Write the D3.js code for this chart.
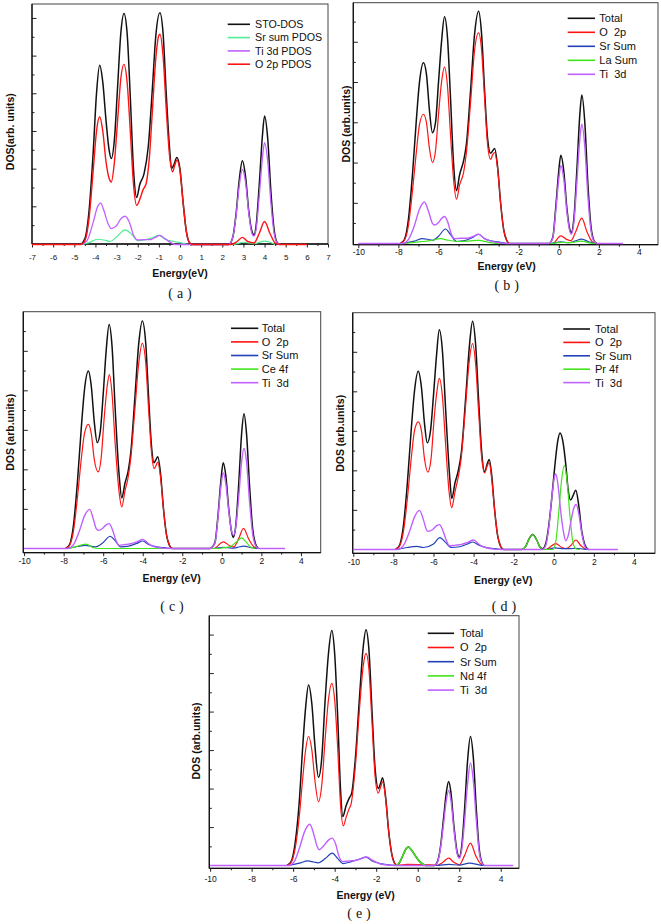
<!DOCTYPE html>
<html><head><meta charset="utf-8">
<script src="https://cdn.jsdelivr.net/npm/d3@7/dist/d3.min.js"></script>
<style>body{margin:0;background:#fff;} svg{display:block;} text{font-family:"Liberation Sans",Arial,sans-serif;}</style>
</head><body><svg id="chart" width="661" height="924"></svg>
<script>
// ---------------- DATA (energy eV, DOS arb. units) ----------------
// Panel (a) SrTiO3
const a_sto = [[-7,0],[-4.7,0],[-4.5,0.15],[-4.3,0.9],[-4.1,2.5],[-3.95,4.0],[-3.8,4.76],[-3.65,4.3],[-3.5,3.3],[-3.35,2.5],[-3.25,2.28],[-3.1,2.8],[-2.95,4.2],[-2.8,5.6],[-2.65,6.13],[-2.5,5.6],[-2.35,3.9],[-2.2,2.0],[-2.05,1.25],[-1.9,1.6],[-1.7,1.88],[-1.5,2.6],[-1.3,4.2],[-1.15,5.5],[-0.95,6.15],[-0.8,5.6],[-0.65,4.0],[-0.5,2.6],[-0.4,2.02],[-0.3,2.1],[-0.15,2.31],[0.0,2.0],[0.15,1.1],[0.3,0.35],[0.45,0.05],[0.6,0],[2.3,0],[2.5,0.2],[2.65,0.8],[2.8,1.7],[2.95,2.22],[3.1,1.8],[3.25,0.9],[3.4,0.35],[3.5,0.25],[3.6,0.5],[3.75,1.6],[3.9,2.9],[4.0,3.41],[4.15,2.8],[4.3,1.4],[4.45,0.4],[4.6,0.05],[4.75,0],[6,0]];
const a_sr = [[-7,0],[-4.6,0],[-4.3,0.05],[-3.9,0.14],[-3.6,0.12],[-3.3,0.08],[-3.0,0.2],[-2.6,0.39],[-2.3,0.28],[-2.0,0.1],[-1.6,0.13],[-1.3,0.18],[-1.0,0.24],[-0.7,0.14],[-0.3,0.08],[0.0,0.05],[0.4,0],[2.5,0],[3.0,0.06],[3.5,0.02],[4.0,0.09],[4.5,0],[6,0]];
const a_ti = [[-7,0],[-4.7,0],[-4.4,0.1],[-4.1,0.6],[-3.9,1.0],[-3.75,1.1],[-3.6,0.9],[-3.4,0.55],[-3.25,0.42],[-3.0,0.5],[-2.8,0.68],[-2.6,0.75],[-2.4,0.6],[-2.2,0.25],[-2.0,0.12],[-1.7,0.13],[-1.4,0.13],[-1.2,0.18],[-0.95,0.24],[-0.7,0.15],[-0.4,0.04],[-0.2,0],[2.3,0],[2.5,0.2],[2.65,0.75],[2.8,1.55],[2.95,1.99],[3.1,1.65],[3.25,0.85],[3.4,0.3],[3.5,0.22],[3.6,0.4],[3.75,1.3],[3.9,2.3],[4.0,2.7],[4.15,2.2],[4.3,1.1],[4.45,0.3],[4.6,0.04],[4.75,0],[6,0]];
const a_o = [[-7,0],[-4.7,0],[-4.5,0.1],[-4.3,0.7],[-4.1,2.0],[-3.95,3.0],[-3.8,3.39],[-3.65,3.0],[-3.5,2.2],[-3.35,1.75],[-3.25,1.66],[-3.1,2.2],[-2.95,3.3],[-2.8,4.4],[-2.65,4.78],[-2.5,4.3],[-2.35,3.0],[-2.2,1.6],[-2.05,1.04],[-1.9,1.2],[-1.75,1.45],[-1.6,1.62],[-1.45,2.3],[-1.3,3.6],[-1.15,4.9],[-1.0,5.55],[-0.95,5.58],[-0.8,5.0],[-0.65,3.6],[-0.5,2.4],[-0.35,1.93],[-0.25,2.1],[-0.15,2.24],[0.0,1.95],[0.15,1.1],[0.3,0.35],[0.45,0.05],[0.6,0],[2.4,0],[2.7,0.08],[2.95,0.19],[3.2,0.08],[3.5,0.04],[3.75,0.3],[4.0,0.61],[4.25,0.3],[4.5,0.04],[4.7,0],[6,0]];

// Panel (b) La-doped
const b_total = [[-10,0],[-7.9,0],[-7.7,0.1],[-7.5,0.6],[-7.3,1.7],[-7.1,3.1],[-6.95,4.0],[-6.75,4.49],[-6.6,4.2],[-6.45,3.3],[-6.3,2.75],[-6.15,3.0],[-6.0,4.0],[-5.85,5.0],[-5.7,5.63],[-5.55,5.1],[-5.4,3.6],[-5.25,2.0],[-5.1,1.31],[-4.95,1.7],[-4.75,2.05],[-4.6,2.5],[-4.4,3.8],[-4.2,5.2],[-4.0,5.77],[-3.85,5.2],[-3.7,3.8],[-3.55,2.6],[-3.4,2.24],[-3.3,2.3],[-3.2,2.36],[-3.05,1.9],[-2.9,1.0],[-2.75,0.35],[-2.6,0.08],[-2.45,0],[-0.5,0],[-0.3,0.15],[-0.15,0.9],[0.0,1.8],[0.1,2.19],[0.25,1.8],[0.4,0.9],[0.55,0.35],[0.62,0.27],[0.75,0.6],[0.9,1.8],[1.05,3.2],[1.15,3.69],[1.3,3.0],[1.45,1.5],[1.6,0.45],[1.75,0.08],[1.9,0],[3.2,0]];
const b_o2p = [[-10,0],[-7.9,0],[-7.7,0.08],[-7.5,0.45],[-7.3,1.3],[-7.1,2.3],[-6.95,2.95],[-6.75,3.21],[-6.6,3.0],[-6.45,2.35],[-6.3,2.01],[-6.15,2.3],[-6.0,3.2],[-5.85,4.0],[-5.7,4.38],[-5.55,3.9],[-5.4,2.7],[-5.25,1.6],[-5.1,1.1],[-4.95,1.45],[-4.75,1.76],[-4.6,2.3],[-4.4,3.5],[-4.2,4.8],[-4.0,5.23],[-3.85,4.8],[-3.7,3.6],[-3.55,2.45],[-3.4,2.09],[-3.3,2.2],[-3.2,2.26],[-3.05,1.85],[-2.9,1.0],[-2.75,0.35],[-2.6,0.08],[-2.45,0],[-0.3,0],[0.1,0.19],[0.4,0.1],[0.6,0.07],[0.85,0.3],[1.15,0.63],[1.4,0.3],[1.7,0.03],[1.9,0],[3.2,0]];
const b_sr = [[-10,0],[-7.8,0],[-7.2,0.06],[-6.8,0.12],[-6.5,0.1],[-6.3,0.08],[-6.0,0.18],[-5.65,0.36],[-5.4,0.22],[-5.1,0.05],[-4.7,0.07],[-4.3,0.15],[-4.0,0.23],[-3.7,0.12],[-3.3,0.06],[-2.9,0.03],[-2.5,0],[-0.4,0],[0.1,0.04],[0.5,0.02],[0.8,0.06],[1.15,0.11],[1.5,0.04],[1.8,0],[3.2,0]];
const b_la = [[-10,0],[-7.8,0],[-7.2,0.03],[-6.8,0.05],[-6.4,0.07],[-5.9,0.12],[-5.5,0.08],[-5.0,0.05],[-4.5,0.06],[-4.0,0.08],[-3.5,0.03],[-3.0,0],[-0.4,0],[0.1,0.03],[0.6,0.02],[1.1,0.06],[1.6,0.01],[1.8,0],[3.2,0]];
const b_ti = [[-10,0],[-7.8,0],[-7.5,0.1],[-7.2,0.45],[-6.95,0.85],[-6.7,1.03],[-6.5,0.8],[-6.3,0.5],[-6.2,0.46],[-6.0,0.52],[-5.85,0.62],[-5.7,0.67],[-5.55,0.55],[-5.35,0.22],[-5.2,0.12],[-4.9,0.13],[-4.6,0.13],[-4.3,0.17],[-4.0,0.23],[-3.7,0.12],[-3.4,0.06],[-3.0,0.02],[-2.6,0],[-0.5,0],[-0.3,0.13],[-0.15,0.8],[0.0,1.6],[0.1,1.93],[0.25,1.6],[0.4,0.8],[0.55,0.3],[0.62,0.23],[0.75,0.5],[0.9,1.5],[1.05,2.6],[1.15,2.96],[1.3,2.4],[1.45,1.2],[1.6,0.35],[1.75,0.06],[1.9,0],[3.2,0]];

// Panel (c) Ce-doped
const c_total = [[-10,0],[-7.9,0],[-7.7,0.1],[-7.5,0.6],[-7.3,1.7],[-7.1,3.1],[-6.95,4.0],[-6.75,4.49],[-6.6,4.1],[-6.45,3.2],[-6.3,2.68],[-6.15,2.95],[-6.0,3.9],[-5.85,5.0],[-5.7,5.67],[-5.55,5.1],[-5.4,3.6],[-5.2,1.9],[-5.06,1.28],[-4.9,1.65],[-4.73,1.98],[-4.6,2.45],[-4.4,3.8],[-4.2,5.2],[-4.02,5.76],[-3.85,5.2],[-3.7,3.8],[-3.55,2.55],[-3.43,2.17],[-3.33,2.25],[-3.24,2.32],[-3.1,1.9],[-2.95,1.0],[-2.8,0.35],[-2.65,0.08],[-2.5,0],[-0.6,0],[-0.35,0.15],[-0.2,0.8],[-0.05,1.7],[0.07,2.17],[0.2,1.85],[0.35,1.0],[0.5,0.4],[0.58,0.28],[0.7,0.55],[0.85,1.6],[1.0,2.9],[1.12,3.41],[1.25,2.9],[1.4,1.6],[1.55,0.55],[1.7,0.12],[1.85,0],[3.2,0]];
const c_o2p = [[-10,0],[-7.9,0],[-7.7,0.08],[-7.5,0.45],[-7.3,1.3],[-7.1,2.3],[-6.95,2.9],[-6.75,3.14],[-6.6,2.9],[-6.45,2.25],[-6.25,1.94],[-6.1,2.3],[-5.95,3.3],[-5.8,4.1],[-5.69,4.4],[-5.55,3.9],[-5.4,2.7],[-5.2,1.45],[-5.06,1.05],[-4.9,1.45],[-4.75,1.77],[-4.6,2.3],[-4.4,3.5],[-4.2,4.7],[-4.02,5.19],[-3.85,4.7],[-3.7,3.5],[-3.55,2.4],[-3.43,2.02],[-3.33,2.1],[-3.24,2.19],[-3.1,1.8],[-2.95,1.0],[-2.8,0.35],[-2.65,0.08],[-2.5,0],[-0.4,0],[0.07,0.17],[0.4,0.07],[0.6,0.04],[0.85,0.25],[1.1,0.51],[1.35,0.25],[1.65,0.03],[1.85,0],[3.2,0]];
const c_sr = [[-10,0],[-7.8,0],[-7.3,0.05],[-6.9,0.08],[-6.4,0.04],[-6.0,0.15],[-5.65,0.31],[-5.4,0.2],[-5.1,0.04],[-4.7,0.06],[-4.3,0.13],[-4.0,0.19],[-3.7,0.1],[-3.3,0.04],[-2.9,0.02],[-2.5,0],[-0.4,0],[0.05,0.03],[0.5,0.01],[0.8,0.03],[1.1,0.06],[1.5,0.02],[1.8,0],[3.2,0]];
const c_ce = [[-10,0],[-7.8,0],[-7.4,0.04],[-7.1,0.09],[-6.9,0.11],[-6.7,0.08],[-6.5,0.02],[-6.2,0],[-0.3,0],[0.1,0.02],[0.4,0.04],[0.7,0.15],[1.0,0.27],[1.2,0.18],[1.45,0.04],[1.7,0],[3.2,0]];
const c_ti = [[-10,0],[-7.8,0],[-7.5,0.1],[-7.2,0.45],[-6.95,0.82],[-6.68,0.99],[-6.5,0.75],[-6.35,0.5],[-6.25,0.46],[-6.05,0.5],[-5.85,0.6],[-5.7,0.63],[-5.55,0.5],[-5.35,0.2],[-5.2,0.08],[-4.9,0.1],[-4.6,0.12],[-4.3,0.17],[-4.0,0.23],[-3.7,0.12],[-3.4,0.04],[-3.0,0.01],[-2.6,0],[-0.6,0],[-0.35,0.13],[-0.2,0.75],[-0.05,1.55],[0.07,1.91],[0.2,1.65],[0.35,0.95],[0.5,0.42],[0.6,0.34],[0.72,0.6],[0.87,1.4],[1.0,2.2],[1.12,2.53],[1.25,2.2],[1.4,1.2],[1.55,0.4],[1.7,0.08],[1.85,0],[3.2,0]];

// Panel (d) Pr-doped
const d_total = [[-10,0],[-7.9,0],[-7.7,0.1],[-7.5,0.6],[-7.3,1.7],[-7.1,3.1],[-6.95,4.0],[-6.76,4.51],[-6.6,4.1],[-6.45,3.2],[-6.31,2.7],[-6.15,3.0],[-6.0,3.9],[-5.85,4.9],[-5.71,5.56],[-5.55,5.0],[-5.4,3.6],[-5.2,1.9],[-5.09,1.29],[-4.92,1.7],[-4.76,2.0],[-4.6,2.5],[-4.4,3.8],[-4.2,5.2],[-4.05,5.78],[-3.9,5.2],[-3.75,3.8],[-3.6,2.5],[-3.45,1.96],[-3.33,2.15],[-3.22,2.28],[-3.1,1.9],[-2.95,1.0],[-2.8,0.35],[-2.65,0.08],[-2.5,0],[-1.6,0],[-1.4,0.08],[-1.25,0.25],[-1.05,0.38],[-0.85,0.24],[-0.7,0.07],[-0.55,0.02],[-0.4,0.15],[-0.25,0.6],[-0.1,1.3],[0.05,2.1],[0.2,2.75],[0.31,2.95],[0.45,2.75],[0.6,2.15],[0.72,1.5],[0.84,1.25],[0.95,1.35],[1.1,1.5],[1.25,1.1],[1.4,0.45],[1.55,0.12],[1.72,0],[3.2,0]];
const d_o2p = [[-10,0],[-7.9,0],[-7.7,0.08],[-7.5,0.45],[-7.3,1.3],[-7.1,2.35],[-6.95,3.0],[-6.76,3.23],[-6.6,3.0],[-6.45,2.3],[-6.28,1.96],[-6.12,2.3],[-5.97,3.3],[-5.83,4.0],[-5.71,4.33],[-5.55,3.85],[-5.4,2.7],[-5.22,1.45],[-5.09,1.06],[-4.93,1.45],[-4.8,1.75],[-4.62,2.3],[-4.42,3.5],[-4.22,4.75],[-4.05,5.21],[-3.9,4.7],[-3.75,3.5],[-3.6,2.35],[-3.45,1.94],[-3.33,2.1],[-3.22,2.2],[-3.1,1.8],[-2.95,1.0],[-2.8,0.35],[-2.65,0.08],[-2.5,0],[-0.4,0],[0.1,0.15],[0.4,0.05],[0.6,0.02],[0.85,0.1],[1.1,0.24],[1.35,0.1],[1.6,0.01],[1.8,0],[3.2,0]];
const d_sr = [[-10,0],[-7.8,0],[-7.3,0.05],[-6.85,0.08],[-6.5,0.05],[-6.0,0.14],[-5.68,0.3],[-5.4,0.18],[-5.1,0.05],[-4.7,0.07],[-4.3,0.14],[-4.05,0.19],[-3.7,0.1],[-3.3,0.04],[-2.9,0.02],[-2.5,0],[-0.4,0],[0.05,0.04],[0.5,0.02],[0.8,0.02],[1.1,0.03],[1.5,0.01],[1.8,0],[3.2,0]];
const d_pr = [[-10,0],[-1.6,0],[-1.4,0.08],[-1.25,0.25],[-1.05,0.38],[-0.85,0.24],[-0.7,0.07],[-0.5,0],[-0.05,0],[0.1,0.2],[0.25,0.95],[0.4,1.8],[0.53,2.13],[0.65,1.8],[0.8,0.9],[0.95,0.2],[1.1,0.02],[1.3,0],[3.2,0]];
const d_ti = [[-10,0],[-7.8,0],[-7.5,0.1],[-7.2,0.45],[-6.95,0.82],[-6.7,0.99],[-6.5,0.75],[-6.35,0.5],[-6.28,0.46],[-6.05,0.5],[-5.85,0.6],[-5.7,0.63],[-5.55,0.5],[-5.35,0.22],[-5.2,0.09],[-4.9,0.11],[-4.6,0.13],[-4.3,0.18],[-4.0,0.24],[-3.7,0.12],[-3.4,0.05],[-3.0,0.01],[-2.6,0],[-0.55,0],[-0.4,0.1],[-0.25,0.55],[-0.1,1.3],[0.02,1.8],[0.1,1.91],[0.22,1.6],[0.35,0.95],[0.5,0.4],[0.6,0.22],[0.72,0.35],[0.87,0.75],[1.0,1.05],[1.12,1.14],[1.25,0.9],[1.4,0.4],[1.55,0.08],[1.7,0],[3.2,0]];

// Panel (e) Nd-doped
const e_total = [[-10,0],[-6.3,0],[-6.1,0.1],[-5.9,0.6],[-5.7,1.7],[-5.55,3.0],[-5.4,4.1],[-5.26,4.69],[-5.1,4.2],[-4.95,3.1],[-4.78,2.29],[-4.62,2.8],[-4.47,4.2],[-4.3,5.5],[-4.14,6.1],[-4.0,5.5],[-3.85,3.8],[-3.72,2.0],[-3.61,1.27],[-3.45,1.55],[-3.3,1.75],[-3.18,1.88],[-3.0,2.8],[-2.8,4.4],[-2.62,5.7],[-2.49,6.12],[-2.35,5.6],[-2.2,4.0],[-2.05,2.5],[-1.89,2.0],[-1.78,2.15],[-1.69,2.28],[-1.55,1.8],[-1.4,0.9],[-1.25,0.3],[-1.1,0.05],[-1.0,0.01],[-0.85,0.1],[-0.7,0.28],[-0.55,0.44],[-0.45,0.48],[-0.3,0.4],[-0.1,0.24],[0.1,0.1],[0.3,0.02],[0.45,0],[0.8,0],[0.95,0.1],[1.1,0.5],[1.25,1.25],[1.38,1.9],[1.49,2.18],[1.6,1.9],[1.75,1.0],[1.9,0.35],[2.0,0.23],[2.12,0.5],[2.25,1.4],[2.4,2.7],[2.54,3.35],[2.68,2.8],[2.82,1.5],[2.95,0.5],[3.08,0.1],[3.2,0],[4.6,0]];
const e_o2p = [[-10,0],[-6.3,0],[-6.1,0.08],[-5.9,0.45],[-5.7,1.3],[-5.55,2.2],[-5.4,3.0],[-5.26,3.35],[-5.1,3.0],[-4.95,2.2],[-4.78,1.66],[-4.62,2.1],[-4.47,3.2],[-4.3,4.3],[-4.14,4.73],[-4.0,4.3],[-3.85,3.0],[-3.72,1.6],[-3.58,1.03],[-3.45,1.25],[-3.32,1.45],[-3.2,1.62],[-3.0,2.6],[-2.8,4.1],[-2.62,5.2],[-2.49,5.51],[-2.35,5.1],[-2.2,3.7],[-2.05,2.3],[-1.9,1.88],[-1.78,2.05],[-1.69,2.18],[-1.55,1.75],[-1.4,0.9],[-1.25,0.3],[-1.1,0.05],[-0.95,0.01],[-0.5,0.03],[0.6,0.02],[0.9,0],[1.2,0.08],[1.49,0.19],[1.75,0.08],[2.0,0.02],[2.25,0.25],[2.54,0.58],[2.8,0.25],[3.05,0.03],[3.2,0],[4.6,0]];
const e_sr = [[-10,0],[-6.2,0],[-5.7,0.06],[-5.3,0.12],[-5.0,0.09],[-4.8,0.07],[-4.45,0.18],[-4.12,0.32],[-3.85,0.18],[-3.6,0.05],[-3.2,0.1],[-2.8,0.17],[-2.5,0.22],[-2.2,0.12],[-1.8,0.05],[-1.3,0.01],[-1.0,0],[0.9,0],[1.5,0.03],[2.0,0.01],[2.5,0.06],[3.0,0.01],[3.2,0],[4.6,0]];
const e_nd = [[-10,0],[-1.05,0],[-0.85,0.1],[-0.7,0.28],[-0.55,0.44],[-0.45,0.48],[-0.3,0.4],[-0.1,0.24],[0.1,0.1],[0.3,0.02],[0.45,0],[4.6,0]];
const e_ti = [[-10,0],[-6.2,0],[-5.95,0.1],[-5.7,0.45],[-5.45,0.88],[-5.2,1.07],[-5.0,0.8],[-4.85,0.5],[-4.75,0.41],[-4.55,0.5],[-4.3,0.66],[-4.12,0.71],[-3.95,0.55],[-3.8,0.25],[-3.6,0.1],[-3.3,0.12],[-3.0,0.13],[-2.7,0.18],[-2.45,0.22],[-2.2,0.14],[-1.8,0.04],[-1.4,0.01],[-1.1,0],[0.8,0],[0.95,0.08],[1.1,0.45],[1.25,1.1],[1.38,1.7],[1.49,1.95],[1.6,1.7],[1.75,0.9],[1.9,0.3],[2.0,0.19],[2.12,0.4],[2.25,1.1],[2.4,2.1],[2.54,2.66],[2.68,2.2],[2.82,1.2],[2.95,0.4],[3.08,0.08],[3.2,0],[4.6,0]];

// Labels
const aLegend = ["STO-DOS","Sr sum PDOS","Ti 3d PDOS","O 2p PDOS"];
const bLegend = ["Total","O  2p","Sr Sum","La Sum","Ti  3d"];
const cLegend = ["Total","O  2p","Sr Sum","Ce 4f","Ti  3d"];
const dLegend = ["Total","O  2p","Sr Sum","Pr 4f","Ti  3d"];
const eLegend = ["Total","O  2p","Sr Sum","Nd 4f","Ti  3d"];
const aXTicks = [-7,-6,-5,-4,-3,-2,-1,0,1,2,3,4,5,6,7];
const bXTicks = [-10,-8,-6,-4,-2,0,2,4];
const captionLetters = ["a","b","c","d","e"];

// ---------------- DRAWING ----------------
const svg = d3.select("#chart");
const BLK="#111", RED="#ff1414", BLU="#2442b8", GRN="#40e41c", PUR="#c060ff", MINT="#52ec96";

function range(a,b,s){const r=[];for(let v=a;v<=b+1e-9;v+=s)r.push(+v.toFixed(3));return r;}

const panels = [
 {L:32,R:328,T:4,B:244,xdom:[-7,7],ydom:[0,6.37],yt:[0,6],xt:aXTicks,xminor:range(-6.5,6.5,1),labOff:13,tickFs:8,
  series:[{d:a_sto,c:BLK,w:1.5},{d:a_sr,c:MINT},{d:a_ti,c:PUR,w:1.3},{d:a_o,c:RED,w:1.4}],
  legend:aLegend, lcol:[BLK,MINT,PUR,RED], lx1:227.7,lx2:250,tx:255,ly:24.3,ls:13.3,lfs:10.7,
  xt_title:"Energy(eV)",xtx:180,xty:273.5,yt_title:"DOS(arb. units)",ytx:10,yty:131.7,cap:captionLetters[0],capx:180,capy:293},
 {L:353.3,R:658,T:2.7,B:244.7,xdom:[-10.25,4.95],ydom:[-0.04,5.97],yt:[0.5,5.5],xt:bXTicks,xminor:range(-9,3,2),labOff:7,tickFs:8.5,
  series:[{d:b_total,c:BLK,w:1.5},{d:b_o2p,c:RED},{d:b_sr,c:BLU},{d:b_la,c:GRN},{d:b_ti,c:PUR,w:1.4}],
  legend:bLegend, lcol:[BLK,RED,BLU,GRN,PUR], lx1:567.7,lx2:595,tx:599.3,ly:18.3,ls:14,lfs:11,
  xt_title:"Energy (eV)",xtx:506.7,xty:266.7,yt_title:"DOS (arb.units)",ytx:346,yty:124,cap:captionLetters[1],capx:506.7,capy:285},
 {L:23.3,R:320.7,T:311.7,B:552.7,xdom:[-10.04,5],ydom:[-0.11,5.99],yt:[0.5,5.5],xt:bXTicks,xminor:range(-9,3,2),labOff:8.5,tickFs:8.5,
  series:[{d:c_total,c:BLK,w:1.5},{d:c_o2p,c:RED},{d:c_sr,c:BLU},{d:c_ce,c:GRN},{d:c_ti,c:PUR,w:1.4}],
  legend:cLegend, lcol:[BLK,RED,BLU,GRN,PUR], lx1:231,lx2:258.3,tx:261.7,ly:328.3,ls:13.6,lfs:11,
  xt_title:"Energy (eV)",xtx:171.7,xty:578.3,yt_title:"DOS (arb.units)",ytx:10,yty:432.3,cap:captionLetters[2],capx:172,capy:606},
 {L:352.7,R:655,T:312.7,B:553.3,xdom:[-10.03,5.05],ydom:[-0.10,5.99],yt:[0.5,5.5],xt:bXTicks,xminor:range(-9,3,2),labOff:8.5,tickFs:8.5,
  series:[{d:d_total,c:BLK,w:1.5},{d:d_o2p,c:RED},{d:d_sr,c:BLU},{d:d_pr,c:GRN},{d:d_ti,c:PUR,w:1.4}],
  legend:dLegend, lcol:[BLK,RED,BLU,GRN,PUR], lx1:563.3,lx2:590,tx:595,ly:329,ls:13.4,lfs:11,
  xt_title:"Energy (eV)",xtx:503.3,xty:580,yt_title:"DOS (arb.units)",ytx:340,yty:433.3,cap:captionLetters[3],capx:504,capy:606},
 {L:209.3,R:519,T:615.7,B:868.3,xdom:[-10.04,4.88],ydom:[-0.07,6.49],yt:[0.5,6],xt:bXTicks,xminor:range(-9,3,2),labOff:11,tickFs:8.5,
  series:[{d:e_total,c:BLK,w:1.5},{d:e_o2p,c:RED},{d:e_sr,c:BLU},{d:e_nd,c:GRN,w:1.5},{d:e_ti,c:PUR,w:1.4}],
  legend:eLegend, lcol:[BLK,RED,BLU,GRN,PUR], lx1:427.7,lx2:454,tx:460,ly:633.3,ls:14.2,lfs:11,
  xt_title:"Energy (eV)",xtx:365.7,xty:895.5,yt_title:"DOS (arb.units)",ytx:196,yty:741,cap:captionLetters[4],capx:359,capy:913}
];

panels.forEach(p=>{
  const g = svg.append("g");
  const x = d3.scaleLinear().domain(p.xdom).range([p.L,p.R]);
  const y = d3.scaleLinear().domain(p.ydom).range([p.B,p.T]);
  g.append("rect").attr("x",p.L).attr("y",p.T).attr("width",p.R-p.L).attr("height",p.B-p.T)
    .attr("fill","none").attr("stroke","#444").attr("stroke-width",1);
  // y ticks (inward)
  const yvals = range(p.yt[0],p.yt[1],0.5);
  const yMaj = yvals.filter(v=>Math.abs(v-Math.round(v))<1e-6);
  const yMin = yvals.filter(v=>Math.abs(v-Math.round(v))>1e-6);
  const ya1 = g.append("g").attr("transform",`translate(${p.L},0)`).call(d3.axisRight(y).tickValues(yMaj).tickSize(4.5).tickFormat(""));
  const ya2 = g.append("g").attr("transform",`translate(${p.L},0)`).call(d3.axisRight(y).tickValues(yMin).tickSize(2.5).tickFormat(""));
  [ya1,ya2].forEach(a=>{a.select(".domain").remove();a.selectAll("line").attr("stroke","#222");});
  // x ticks (outward)
  const xa = g.append("g").attr("transform",`translate(0,${p.B})`).call(d3.axisBottom(x).tickValues(p.xt).tickSize(3.5).tickFormat(d3.format("d")));
  xa.select(".domain").remove();
  xa.selectAll("line").attr("stroke","#222");
  xa.selectAll("text").attr("y",p.labOff).attr("dy","0.35em").attr("font-size",p.tickFs).attr("font-family","Liberation Sans, Arial, sans-serif").attr("fill","#111")
    .text(d=>d<0?"-"+Math.abs(d):d);
  const xm = g.append("g").attr("transform",`translate(0,${p.B})`).call(d3.axisBottom(x).tickValues(p.xminor).tickSize(2).tickFormat(""));
  xm.select(".domain").remove(); xm.selectAll("line").attr("stroke","#222");
  // axis lines
  g.append("line").attr("x1",p.L).attr("x2",p.R).attr("y1",p.B).attr("y2",p.B).attr("stroke","#111").attr("stroke-width",1.3);
  g.append("line").attr("x1",p.L).attr("x2",p.L).attr("y1",p.T).attr("y2",p.B).attr("stroke","#111").attr("stroke-width",1.3);
  // curves (baseline snapped to pixel centre; only the top-most series draws its flat zero stretches)
  const y0 = y(0), off = (Math.floor(y0)+0.5) - y0;
  const cg = g.append("g").attr("transform",`translate(0,${off})`);
  const nS = p.series.length;
  p.series.forEach((s,si)=>{
    const arr = s.d;
    const keep = arr.map((d,i)=> si===nS-1 || d[1]>0 || (i>0&&arr[i-1][1]>0) || (i<arr.length-1&&arr[i+1][1]>0));
    const line = d3.line().defined((d,i)=>keep[i]).x(d=>x(d[0])).y(d=>y(d[1])).curve(d3.curveMonotoneX);
    cg.append("path").datum(arr).attr("d",line).attr("fill","none").attr("stroke",s.c)
      .attr("stroke-width",s.w||1.2).attr("stroke-linejoin","round");
  });
  // legend
  p.legend.forEach((t,i)=>{
    const yy = p.ly + i*p.ls;
    g.append("line").attr("x1",p.lx1).attr("x2",p.lx2).attr("y1",yy).attr("y2",yy).attr("stroke",p.lcol[i]).attr("stroke-width",1.6);
    g.append("text").attr("x",p.tx).attr("y",yy).attr("dy","0.36em").attr("font-size",p.lfs).attr("fill","#111")
      .style("white-space","pre").text(t);
  });
  // titles
  g.append("text").attr("x",p.xtx).attr("y",p.xty).attr("dy","0.36em").attr("text-anchor","middle")
    .attr("font-size",10.5).attr("font-weight","bold").attr("fill","#111").text(p.xt_title);
  g.append("text").attr("transform",`translate(${p.ytx},${p.yty}) rotate(-90)`).attr("dy","0.36em").attr("text-anchor","middle")
    .attr("font-size",10.5).attr("font-weight","bold").attr("fill","#111").text(p.yt_title);
  const cap = g.append("text").attr("x",p.capx).attr("y",p.capy).attr("dy","0.34em").attr("text-anchor","middle")
    .attr("font-size",14).attr("fill","#111").style("font-family","'Liberation Serif',serif");
  cap.append("tspan").text("(");
  cap.append("tspan").attr("dx",4).text(p.cap);
  cap.append("tspan").attr("dx",4).text(")");
});
</script></body></html>
